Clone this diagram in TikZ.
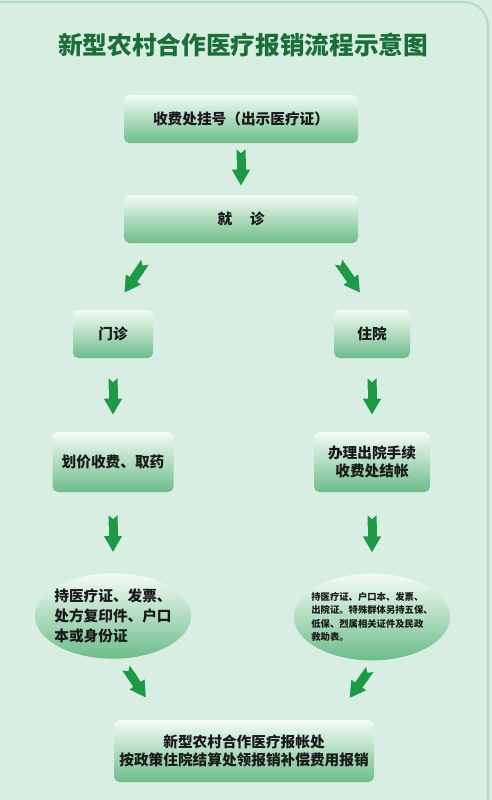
\documentclass[tikz,border=0pt]{standalone}
\usepackage{fontspec}
\setmainfont{Noto Sans CJK SC}
\usetikzlibrary{arrows.meta,shapes.geometric}
\definecolor{bgmint}{HTML}{D8EEE2}
\definecolor{paneledge}{HTML}{B2DCC1}
\definecolor{titlegreen}{HTML}{1B6E37}
\definecolor{arrowgreen}{HTML}{1E9A46}
\definecolor{boxtop}{HTML}{F4FBF6}
\definecolor{boxmid}{HTML}{B6E0C5}
\definecolor{boxbot}{HTML}{6DBC8A}
\tikzset{
  stepbox/.style={rectangle,rounded corners=4pt,top color=boxtop,middle color=boxmid,bottom color=boxbot,
    align=center,inner sep=0pt,text=black!90,font=\bfseries\fontsize{11}{14}\selectfont},
  docoval/.style={ellipse,top color=boxtop,middle color=boxmid,bottom color=boxbot,
    align=left,inner xsep=-6pt,inner ysep=-3pt,text=black!90},
  flow/.style={draw=arrowgreen,line width=6.75pt,
    {Triangle Cap[reversed,length=3pt]}-{Triangle[width=12.75pt,length=12pt]}}
}
\begin{document}
\begin{tikzpicture}[x=0.75pt,y=-0.75pt]
\useasboundingbox (0,0) rectangle (492,800);
\fill[bgmint] (0,0) rectangle (492,800);
\draw[paneledge,line width=1.5pt,rounded corners=18pt] (-10,2) -- (488,2) -- (488,810);
% title
\node (title) at (243,45) {\bfseries\color{titlegreen}\fontsize{18.5}{22}\selectfont 新型农村合作医疗报销流程示意图};
% main steps
\node[stepbox,minimum width=175.5pt,minimum height=36pt] (reg) at (241,119) {收费处挂号（出示医疗证）};
\node[stepbox,minimum width=175.5pt,minimum height=36pt] (visit) at (241,219) {就\hspace{1.2em}诊};
% left column: out-patient
\node[stepbox,minimum width=60pt,minimum height=36pt] (outpat) at (113,334) {门诊};
\node[stepbox,minimum width=90.75pt,minimum height=45pt] (price) at (113,462) {划价收费、取药};
\node[docoval,minimum width=117pt,minimum height=64pt,font=\bfseries\fontsize{11}{15}\selectfont] (lreq) at (113,616)
  {持医疗证、发票、\\处方复印件、户口\\本或身份证};
% right column: in-patient
\node[stepbox,minimum width=57pt,minimum height=36pt] (inpat) at (372,334) {住院};
\node[stepbox,minimum width=87pt,minimum height=45pt] (leave) at (372,462) {办理出院手续\\收费处结帐};
\node[docoval,minimum width=117pt,minimum height=65pt,font=\bfseries\fontsize{7}{10}\selectfont] (rreq) at (372,617)
  {持医疗证、户口本、发票、\\出院证。特殊群体另持五保、\\低保、烈属相关证件及民政\\救助表。};
% claim
\node[stepbox,minimum width=195pt,minimum height=46.5pt] (claim) at (244,751)
  {新型农村合作医疗报帐处\\按政策住院结算处领报销补偿费用报销};
% arrows
\draw[flow,shorten <=4.5pt,shorten >=6.75pt] (reg) -- (visit);
\draw[flow,shorten <=17.2pt,shorten >=15.4pt] ([xshift=25.5pt]visit.south west) -- (outpat.north);
\draw[flow,shorten <=17.4pt,shorten >=15.6pt] ([xshift=-24.75pt]visit.south east) -- (inpat.north);
\draw[flow,shorten <=15pt,shorten >=12.75pt] (outpat) -- (price);
\draw[flow,shorten <=15pt,shorten >=12.75pt] (inpat) -- (leave);
\draw[flow,shorten <=17.25pt,shorten >=15.75pt] (price) -- (lreq);
\draw[flow,shorten <=17.25pt,shorten >=15.75pt] (leave) -- (rreq);
\draw[flow,shorten <=8.2pt,shorten >=19.9pt] ([xshift=5.25pt]lreq.south) -- ([xshift=35.25pt]claim.north west);
\draw[flow,shorten <=8.2pt,shorten >=19.9pt] ([xshift=3pt]rreq.south) -- ([xshift=-30pt]claim.north east);
\end{tikzpicture}
\end{document}
